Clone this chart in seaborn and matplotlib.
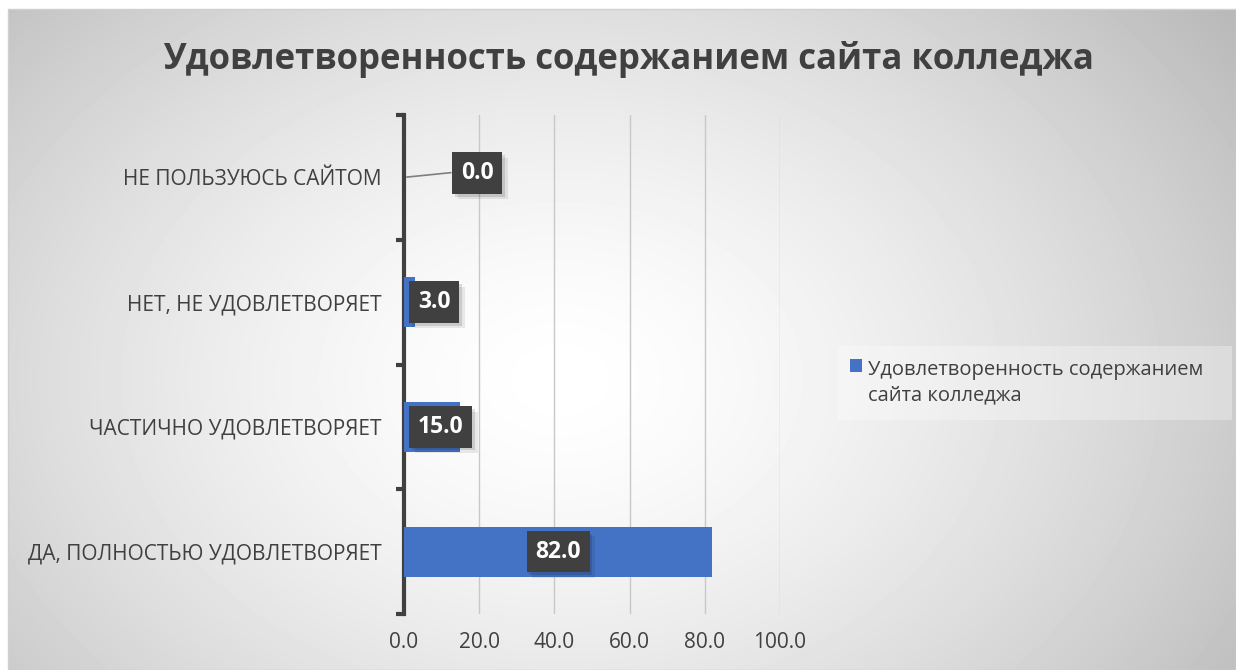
import numpy as np
import pandas as pd
import matplotlib
matplotlib.use("Agg")
import matplotlib.pyplot as plt
import matplotlib.patheffects as pe
import seaborn as sns

categories = ["НЕ ПОЛЬЗУЮСЬ САЙТОМ", "НЕТ, НЕ УДОВЛЕТВОРЯЕТ",
              "ЧАСТИЧНО УДОВЛЕТВОРЯЕТ", "ДА, ПОЛНОСТЬЮ УДОВЛЕТВОРЯЕТ"]
values = [0.0, 3.0, 15.0, 82.0]
series_name = "Удовлетворенность содержанием сайта колледжа"
x_ticks = [0, 20, 40, 60, 80, 100]

sns.set_theme(style="white")
plt.rcParams["font.family"] = ["Open Sans", "DejaVu Sans"]

W, H = 1236, 670
fig = plt.figure(figsize=(W / 100, H / 100), dpi=100)

# фон: радиальный градиент
bg = fig.add_axes([8 / W, 0, 1 - 8 / W, 1 - 9 / H])
yy, xx = np.mgrid[0:H - 9, 0:W - 8]
r = np.sqrt(((xx - 552) / 760) ** 2 + ((yy - 370) / 560) ** 2)
shade = np.clip(1.0 - 0.24 * r ** 1.5, 0.7, 1.0)
bg.imshow(shade, cmap="gray", vmin=0, vmax=1, aspect="auto", interpolation="bilinear")
bg.set_axis_off()
fig.patches.append(plt.Rectangle((8 / W, 0), 1 - 8 / W, 1 - 9 / H,
                                 transform=fig.transFigure, fill=False,
                                 ec="#d0d0d0", lw=1))

left, right, top, bottom = 404, 780, 115, 614
ax = fig.add_axes([left / W, 1 - bottom / H, (right - left) / W, (bottom - top) / H])
ax.patch.set_alpha(0)

df = pd.DataFrame({"category": categories, "value": values})
sns.barplot(data=df, x="value", y="category", orient="h", color="#4472C4",
            width=0.4, saturation=1, linewidth=0, ax=ax, zorder=3)

ax.set_xlim(0, 100)
ax.set_xticks(x_ticks)
ax.set_xticklabels([f"{t:.1f}" for t in x_ticks], fontsize=15, color="#404040")
ax.xaxis.grid(True, color="#c8c8c8", lw=1, zorder=0)
ax.set_axisbelow(True)
ax.set_xlabel("")
ax.set_ylabel("")
ax.tick_params(axis="x", length=0, pad=13)
ax.tick_params(axis="y", length=0, pad=16)
for lab in ax.get_yticklabels():
    lab.set_fontsize(15)
    lab.set_color("#404040")
for s in ["top", "right", "bottom"]:
    ax.spines[s].set_visible(False)
ax.spines["left"].set_color("#404040")
ax.spines["left"].set_linewidth(3)
ax.set_ylim(len(categories) - 0.5, -0.5)

# засечки между категориями
for b in np.arange(-0.5, len(categories), 1.0):
    ax.plot([-2.2, 0], [b, b], color="#404040", lw=3, clip_on=False,
            solid_capstyle="butt", zorder=4)

# подписи данных
for i, v in enumerate(values):
    txt = f"{v:.1f}"
    if v >= 50:
        xpos, ha, off = v / 2, "center", (0, 0)
    elif v > 0:
        xpos, ha, off = 0, "left", (10, 0)
    else:
        xpos, ha, off = 0, "left", (41, 3)
        ax.annotate("", xy=(0, i), xytext=(13.2, i - 0.04),
                    arrowprops=dict(arrowstyle="-", color="#7f7f7f", lw=1.2),
                    zorder=5, annotation_clip=False)
    t = ax.annotate(txt, (xpos, i), xytext=off, textcoords="offset points",
                    ha=ha, va="center", fontsize=16.5, fontweight="bold", color="white",
                    zorder=6, bbox=dict(boxstyle="square,pad=0.38", fc="#404040", ec="none"))
    t.get_bbox_patch().set_path_effects([
        pe.SimplePatchShadow(offset=(4, -4), shadow_rgbFace="black", alpha=0.08),
        pe.SimplePatchShadow(offset=(2, -2), shadow_rgbFace="black", alpha=0.12),
        pe.Normal()])

fig.text(628 / W, 1 - 60 / H, "Удовлетворенность содержанием сайта колледжа",
         ha="center", va="center", fontsize=25, fontweight="bold", color="#404040")

# легенда
leg_ax = fig.add_axes([838 / W, 1 - 420 / H, (1232 - 838) / W, (420 - 346) / H])
leg_ax.set_axis_off()
leg_ax.add_patch(plt.Rectangle((0, 0), 1, 1, transform=leg_ax.transAxes,
                               fc="white", alpha=0.3, ec="none"))
leg_ax.add_patch(plt.Rectangle((0.03, 0.65), 0.03, 0.17,
                               transform=leg_ax.transAxes, fc="#4472C4", ec="none"))
leg_ax.text(0.075, 0.5, "Удовлетворенность содержанием\nсайта колледжа",
            transform=leg_ax.transAxes, ha="left", va="center", fontsize=14.5,
            color="#404040", linespacing=1.35)

fig.savefig("out.png", dpi=100)
